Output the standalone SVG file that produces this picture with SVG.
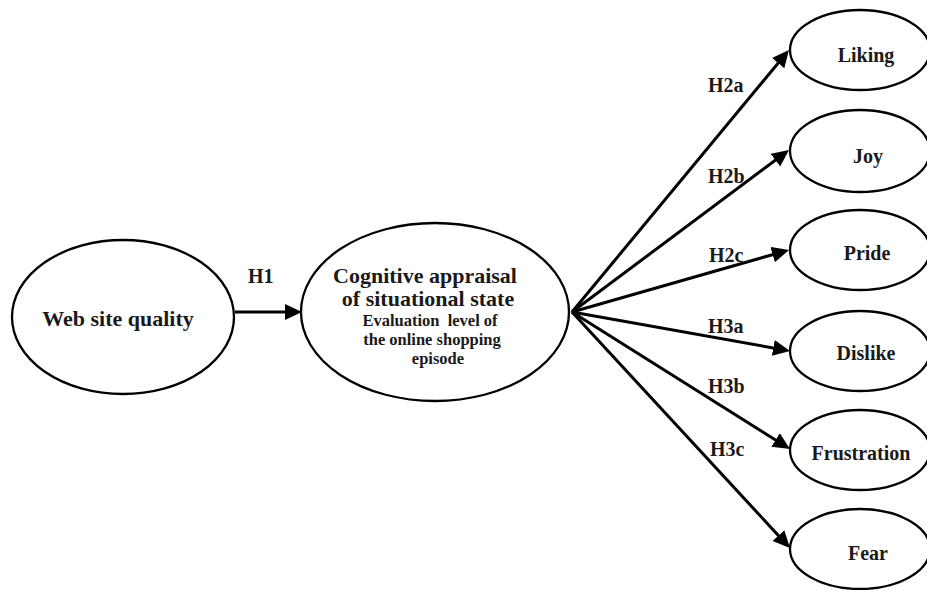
<svg xmlns="http://www.w3.org/2000/svg" width="927" height="590" viewBox="0 0 927 590">
  <style>
    .node ellipse { fill: #ffffff; stroke: #000000; stroke-width: 2.3; }
    .node text, .lbl { font-family: "Liberation Serif", "Times New Roman", serif; font-weight: bold; fill: #1a1a1a; }
    .node text { text-anchor: middle; }
    .big { font-size: 22px; }
    .mid { font-size: 22px; }
    .small { font-size: 16.5px; }
    .emo { font-size: 20px; }
    .lbl { font-size: 20px; }
    .edge { stroke: #000000; stroke-width: 3; fill: none; marker-end: url(#head); }
  </style>
  <defs>
    <marker id="head" markerUnits="userSpaceOnUse" markerWidth="18" markerHeight="18" refX="7" refY="8" orient="auto">
      <path d="M0,0 L17,8 L0,16 z" fill="#000000"/>
    </marker>
  </defs>
  <rect width="927" height="590" fill="#ffffff"/>

  <!-- connectors -->
  <g id="connectors">
    <line class="edge" x1="235" y1="312" x2="292" y2="312"/>
    <line class="edge" x1="572" y1="312" x2="782.6" y2="57.7"/>
    <line class="edge" x1="572" y1="312" x2="781.0" y2="156.0"/>
    <line class="edge" x1="572" y1="312" x2="779.4" y2="252.7"/>
    <line class="edge" x1="572" y1="312" x2="780.2" y2="349.2"/>
    <line class="edge" x1="572" y1="312" x2="781.5" y2="443.7"/>
    <line class="edge" x1="572" y1="312" x2="783.2" y2="540.7"/>
  </g>

  <!-- hypothesis labels -->
  <g id="labels">
    <text class="lbl" x="248" y="283">H1</text>
    <text class="lbl" x="708" y="92">H2a</text>
    <text class="lbl" x="708" y="183">H2b</text>
    <text class="lbl" x="709" y="262">H2c</text>
    <text class="lbl" x="708" y="333">H3a</text>
    <text class="lbl" x="708" y="393">H3b</text>
    <text class="lbl" x="710" y="456">H3c</text>
  </g>

  <g id="web-site-quality" class="node">
    <ellipse cx="123" cy="317" rx="111" ry="77"/>
    <text class="mid" x="118" y="326">Web site quality</text>
  </g>

  <g id="cognitive-appraisal" class="node">
    <ellipse cx="435" cy="312" rx="134" ry="89"/>
    <text class="big" x="425" y="283">Cognitive appraisal</text>
    <text class="big" x="428" y="306">of situational state</text>
    <text class="small" x="430" y="326" xml:space="preserve">Evaluation  level of</text>
    <text class="small" x="432" y="345">the online shopping</text>
    <text class="small" x="438" y="364">episode</text>
  </g>

  <g id="liking" class="node">
    <ellipse cx="860" cy="50" rx="70" ry="40"/>
    <text class="emo" x="866" y="62">Liking</text>
  </g>
  <g id="joy" class="node">
    <ellipse cx="860" cy="151" rx="70" ry="41"/>
    <text class="emo" x="868" y="163">Joy</text>
  </g>
  <g id="pride" class="node">
    <ellipse cx="860" cy="250" rx="70" ry="40"/>
    <text class="emo" x="867" y="260">Pride</text>
  </g>
  <g id="dislike" class="node">
    <ellipse cx="860" cy="351" rx="70" ry="40"/>
    <text class="emo" x="866" y="360">Dislike</text>
  </g>
  <g id="frustration" class="node">
    <ellipse cx="860" cy="450" rx="70" ry="40"/>
    <text class="emo" x="861" y="460">Frustration</text>
  </g>
  <g id="fear" class="node">
    <ellipse cx="860" cy="549" rx="70" ry="40"/>
    <text class="emo" x="868" y="560">Fear</text>
  </g>
</svg>
